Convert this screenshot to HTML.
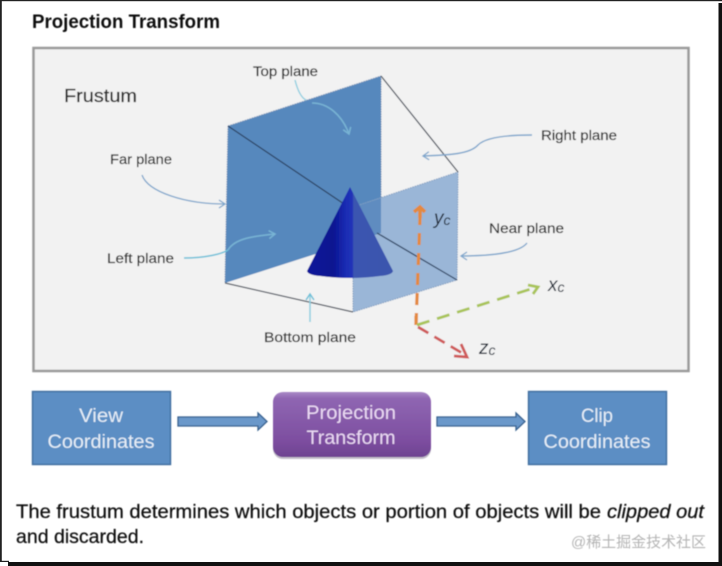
<!DOCTYPE html>
<html><head><meta charset="utf-8"><style>
html,body{margin:0;padding:0;background:#fff}
svg{display:block}
text{font-family:"Liberation Sans","Noto Sans CJK SC",sans-serif}
</style></head><body>
<svg width="722" height="566" viewBox="0 0 722 566" xmlns="http://www.w3.org/2000/svg">
<defs>
<linearGradient id="pur" x1="0" y1="0" x2="0" y2="1"><stop offset="0" stop-color="#a98ac6"/><stop offset=".1" stop-color="#8f66b2"/><stop offset=".75" stop-color="#7d4ea0"/><stop offset="1" stop-color="#6e4290"/></linearGradient>
<linearGradient id="cone" x1="0" y1="0" x2="1" y2="0"><stop offset="0" stop-color="#07129a"/><stop offset=".3" stop-color="#0a1490"/><stop offset=".45" stop-color="#1a2cb4"/><stop offset=".53" stop-color="#2234b8"/><stop offset=".54" stop-color="#3a55b0"/><stop offset="1" stop-color="#3b55ae"/></linearGradient>
<filter id="b" x="-5%" y="-5%" width="110%" height="110%"><feGaussianBlur stdDeviation="0.55"/></filter>
<marker id="a1" markerWidth="10" markerHeight="10" refX="8" refY="5" orient="auto" markerUnits="userSpaceOnUse"><path d="M2 1 L8 5 L2 9" fill="none" stroke="#7ea6cc" stroke-width="1.3"/></marker>
<marker id="a2" markerWidth="10" markerHeight="10" refX="8" refY="5" orient="auto" markerUnits="userSpaceOnUse"><path d="M2 1 L8 5 L2 9" fill="none" stroke="#6cc0d8" stroke-width="1.5"/></marker>
<marker id="a3" markerWidth="10" markerHeight="10" refX="8" refY="5" orient="auto" markerUnits="userSpaceOnUse"><path d="M2 1 L8 5 L2 9" fill="none" stroke="#78b4d4" stroke-width="1.5"/></marker>
</defs>
<rect width="722" height="566" fill="#fff"/>
<g filter="url(#b)">
<!-- panel -->
<rect x="33.5" y="48" width="655" height="323" fill="#f2f2f2" stroke="#9a9a9a" stroke-width="2.5"/>
<text x="32" y="28" font-size="19.5" font-weight="bold" fill="#111" textLength="188" lengthAdjust="spacingAndGlyphs">Projection Transform</text>
<text x="64" y="102" font-size="18" fill="#2c2c2c" stroke="#2c2c2c" stroke-width=".25" textLength="73" lengthAdjust="spacingAndGlyphs">Frustum</text>

<!-- frustum -->
<polygon points="228,126 381,76 381,233 225,283" fill="#5788bd"/>
<polygon points="353,207 458,172 457,280 353,312" fill="#9ab6d7"/>
<polygon points="353,207 381,198 381,233 353,242" fill="#5f8cc0"/>
<path d="M228,126 L381,76 M228,126 L225,283 M381,76 L381,198" fill="none" stroke="#6f8fb5" stroke-width="1" stroke-dasharray="1.5 1"/>
<path d="M353,207 L458,172 L457,280 L353,312 L353,240" fill="none" stroke="#7f9cc0" stroke-width="1" stroke-dasharray="1.5 1"/>
<path d="M381,76 L458,172 M225,283 L353,312" fill="none" stroke="#4f5560" stroke-width="1.3"/>
<path d="M228,126 L350,208" fill="none" stroke="#2b4363" stroke-width="1.3"/>
<path d="M377,233 L457,280" fill="none" stroke="#2f4564" stroke-width="1.3"/>

<!-- cone -->
<path d="M350,187 L307,271 Q308,275 320,276 Q350,280 380,276 Q392,275 393,271 Z" fill="url(#cone)"/>

<!-- labels -->
<g font-size="13.5" fill="#2e2e2e" stroke="#2e2e2e" stroke-width=".2">
<text x="253" y="76" textLength="65" lengthAdjust="spacingAndGlyphs">Top plane</text>
<text x="110" y="164" textLength="62" lengthAdjust="spacingAndGlyphs">Far plane</text>
<text x="107" y="263" textLength="67" lengthAdjust="spacingAndGlyphs">Left plane</text>
<text x="264" y="342" textLength="92" lengthAdjust="spacingAndGlyphs">Bottom plane</text>
<text x="541" y="140" textLength="76" lengthAdjust="spacingAndGlyphs">Right plane</text>
<text x="489" y="233" textLength="75" lengthAdjust="spacingAndGlyphs">Near plane</text>
</g>

<!-- callouts -->
<path d="M142,175 C148,192 185,204 225,204" fill="none" stroke="#7ea6cc" stroke-width="1.3" marker-end="url(#a1)"/>
<path d="M184,258 C205,258 222,254 228,250" fill="none" stroke="#6cc0d8" stroke-width="1.5"/>
<path d="M228,250 C235,238 255,236 275,234" fill="none" stroke="#78b4d4" stroke-width="1.5" marker-end="url(#a3)"/>
<path d="M295,80 C298,92 302,98 306,100" fill="none" stroke="#8fcfe0" stroke-width="1.4"/>
<path d="M312,103 C328,103 342,115 349,134" fill="none" stroke="#78b4d4" stroke-width="1.5" marker-end="url(#a3)"/>
<path d="M310,322 L310,294" fill="none" stroke="#8fcfe0" stroke-width="1.5" marker-end="url(#a2)"/>
<path d="M532,135 C505,135 485,138 478,145 C470,154 450,155 423,156" fill="none" stroke="#7ea6cc" stroke-width="1.4" marker-end="url(#a1)"/>
<path d="M527,243 C520,252 495,256 461,256" fill="none" stroke="#7ea6cc" stroke-width="1.4" marker-end="url(#a1)"/>

<!-- axes -->
<path d="M416,325 L420,218" fill="none" stroke="#e3893f" stroke-width="3.2" stroke-dasharray="12 8"/>
<path d="M416,325 L416,316" fill="none" stroke="#e3893f" stroke-width="3.2"/>
<path d="M414,212 L420,207 L425,212" fill="none" stroke="#e3893f" stroke-width="3.6"/>
<path d="M420,208 L420,218" stroke="#e3893f" stroke-width="3.6"/>
<path d="M417,325 L534,288" fill="none" stroke="#a9c45a" stroke-width="2.8" stroke-dasharray="13 8"/>
<path d="M528,285 L538,287 L533,294" fill="none" stroke="#a9c45a" stroke-width="2.8"/>
<path d="M418,327 L462,353" fill="none" stroke="#cf5a5a" stroke-width="2.8" stroke-dasharray="12 7"/>
<path d="M454,356 L467,357 L461,344" fill="none" stroke="#cf5a5a" stroke-width="2.8"/>
<g font-style="italic" font-size="19" fill="#1a2534">
<text x="434" y="224">y<tspan font-size="14" dy="1">c</tspan></text>
<text x="548" y="291">x<tspan font-size="14" dy="1">c</tspan></text>
<text x="479" y="354">z<tspan font-size="14" dy="1">c</tspan></text>
</g>

<!-- flow boxes -->
<rect x="32.5" y="391.5" width="138" height="73" fill="#5b8ec4" stroke="#3f6d9e" stroke-width="1.4"/>
<rect x="528.5" y="391.5" width="138" height="73" fill="#5b8ec4" stroke="#3f6d9e" stroke-width="1.4"/>
<rect x="273" y="393" width="158" height="66" rx="10" fill="#a9a3b2" opacity=".7"/>
<rect x="273" y="392" width="158" height="65" rx="10" fill="url(#pur)"/>
<g font-size="19.5" fill="#e6eef7" text-anchor="middle">
<text x="101" y="422" textLength="44" lengthAdjust="spacingAndGlyphs">View</text>
<text x="101" y="448" textLength="107" lengthAdjust="spacingAndGlyphs">Coordinates</text>
<text x="597" y="422" textLength="32" lengthAdjust="spacingAndGlyphs">Clip</text>
<text x="597" y="448" textLength="107" lengthAdjust="spacingAndGlyphs">Coordinates</text>
<text x="351" y="419" fill="#ead9f3" textLength="90" lengthAdjust="spacingAndGlyphs">Projection</text>
<text x="351" y="444" fill="#ead9f3" textLength="89" lengthAdjust="spacingAndGlyphs">Transform</text>
</g>
<polygon points="178,417 258,417 258,413 267,421.5 258,430 258,426 178,426" fill="#6a98ca" stroke="#37618f" stroke-width="1.3"/>
<polygon points="437,417 516,417 516,413 525,421.5 516,430 516,426 437,426" fill="#6a98ca" stroke="#37618f" stroke-width="1.3"/>

<!-- caption -->
<g font-size="19.5" fill="#111" stroke="#111" stroke-width=".25">
<text x="16" y="518" textLength="585" lengthAdjust="spacingAndGlyphs">The frustum determines which objects or portion of objects will be</text>
<text x="607" y="518" font-style="italic" textLength="97" lengthAdjust="spacingAndGlyphs">clipped out</text>
<text x="16" y="543" textLength="128" lengthAdjust="spacingAndGlyphs">and discarded.</text>
</g>
<text x="571" y="547" font-size="15" fill="#b4b4b4" textLength="135" lengthAdjust="spacingAndGlyphs">@稀土掘金技术社区</text>
</g>

<!-- outer frame -->
<rect x="0" y="0" width="722" height="1.2" fill="#222"/>
<rect x="0" y="0" width="1.8" height="562" fill="#222"/>
<rect x="0" y="560.8" width="9" height="1.2" fill="#222"/>
<rect x="718.5" y="3" width="3.5" height="563" fill="#111"/>
<rect x="8" y="562" width="714" height="4" fill="#111"/>
<rect x="0" y="562" width="8" height="4" fill="#fff"/>
</svg>
</body></html>
